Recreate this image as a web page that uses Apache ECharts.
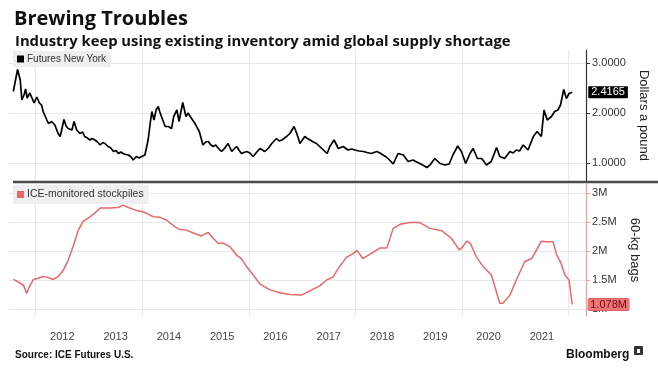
<!DOCTYPE html>
<html><head><meta charset="utf-8">
<script src="https://cdn.jsdelivr.net/npm/echarts@6/dist/echarts.min.js"></script>
<style>html,body{margin:0;padding:0;background:#fff}#c{width:658px;height:368px}</style>
</head><body><div id="c"></div>
<script>
// ---- data ----
const yearLabels = ['2012','2013','2014','2015','2016','2017','2018','2019','2020','2021'];
const priceT = [2011.58,2011.66,2011.71,2011.74,2011.78,2011.81,2011.84,2011.89,2011.93,2011.97,2012.02,2012.07,2012.11,2012.14,2012.21,2012.24,2012.30,2012.36,2012.42,2012.46,2012.53,2012.57,2012.61,2012.68,2012.72,2012.77,2012.83,2012.88,2012.92,2012.97,2013.02,2013.06,2013.11,2013.16,2013.21,2013.26,2013.30,2013.36,2013.41,2013.46,2013.51,2013.55,2013.60,2013.64,2013.69,2013.74,2013.79,2013.83,2013.89,2013.94,2013.99,2014.05,2014.11,2014.15,2014.18,2014.22,2014.26,2014.30,2014.33,2014.36,2014.43,2014.49,2014.55,2014.59,2014.65,2014.69,2014.76,2014.82,2014.86,2014.90,2014.99,2015.07,2015.14,2015.19,2015.24,2015.28,2015.33,2015.38,2015.43,2015.49,2015.55,2015.61,2015.68,2015.73,2015.77,2015.82,2015.86,2015.96,2016.02,2016.08,2016.15,2016.21,2016.30,2016.37,2016.43,2016.52,2016.57,2016.62,2016.71,2016.77,2016.85,2016.90,2016.96,2017.05,2017.10,2017.15,2017.21,2017.27,2017.37,2017.47,2017.52,2017.60,2017.68,2017.77,2017.86,2017.93,2017.99,2018.07,2018.15,2018.22,2018.30,2018.40,2018.46,2018.52,2018.58,2018.64,2018.71,2018.80,2018.90,2018.99,2019.08,2019.15,2019.21,2019.28,2019.34,2019.40,2019.49,2019.59,2019.68,2019.76,2019.83,2019.92,2019.99,2020.07,2020.15,2020.21,2020.29,2020.37,2020.46,2020.55,2020.65,2020.71,2020.80,2020.90,2020.96,2021.02,2021.08,2021.15,2021.24,2021.34,2021.41,2021.49,2021.54,2021.60,2021.68,2021.74,2021.80,2021.85,2021.91,2021.96,2022.01,2022.07];
const priceV = [2.43,2.87,2.66,2.26,2.36,2.48,2.30,2.40,2.30,2.20,2.32,2.20,2.16,2.03,1.86,1.79,1.83,1.76,1.59,1.53,1.87,1.74,1.69,1.66,1.83,1.66,1.59,1.62,1.53,1.50,1.46,1.49,1.46,1.42,1.36,1.41,1.39,1.33,1.30,1.23,1.25,1.19,1.22,1.19,1.17,1.16,1.12,1.06,1.13,1.10,1.13,1.16,1.46,1.80,2.03,1.86,2.06,2.13,2.02,1.93,1.73,1.73,1.69,1.93,2.06,1.83,2.21,1.93,2.00,1.93,1.79,1.63,1.36,1.42,1.43,1.37,1.33,1.36,1.29,1.23,1.30,1.39,1.23,1.29,1.33,1.25,1.19,1.23,1.20,1.13,1.22,1.29,1.23,1.30,1.39,1.49,1.44,1.46,1.53,1.59,1.73,1.59,1.39,1.53,1.49,1.46,1.42,1.39,1.29,1.19,1.33,1.46,1.29,1.33,1.26,1.28,1.26,1.24,1.23,1.21,1.19,1.23,1.20,1.16,1.12,1.06,0.98,1.19,1.16,1.03,1.06,1.02,0.99,0.95,0.91,0.96,1.09,0.99,0.96,0.98,1.16,1.34,1.23,0.99,1.19,1.29,1.09,1.09,0.96,1.03,1.31,1.13,1.09,1.23,1.20,1.26,1.24,1.36,1.26,1.53,1.63,1.53,2.06,1.86,1.93,2.03,2.06,2.16,2.47,2.29,2.39,2.4165];
const stockT = [2011.58,2011.67,2011.77,2011.83,2011.88,2011.96,2012.05,2012.13,2012.21,2012.33,2012.42,2012.52,2012.61,2012.71,2012.80,2012.89,2013.02,2013.14,2013.21,2013.39,2013.55,2013.64,2013.74,2013.89,2013.99,2014.08,2014.21,2014.33,2014.46,2014.61,2014.71,2014.83,2014.96,2015.11,2015.24,2015.33,2015.43,2015.51,2015.65,2015.77,2015.86,2015.96,2016.08,2016.21,2016.40,2016.58,2016.77,2016.99,2017.18,2017.33,2017.46,2017.58,2017.68,2017.83,2017.95,2018.03,2018.14,2018.30,2018.46,2018.59,2018.71,2018.84,2019.02,2019.21,2019.40,2019.62,2019.80,2019.95,2020.01,2020.09,2020.16,2020.27,2020.40,2020.55,2020.62,2020.71,2020.77,2020.90,2021.02,2021.18,2021.31,2021.40,2021.49,2021.59,2021.71,2021.78,2021.86,2021.93,2022.01,2022.07];
const stockV = [1.51,1.47,1.41,1.27,1.38,1.51,1.53,1.56,1.55,1.51,1.56,1.67,1.84,2.10,2.36,2.51,2.59,2.68,2.74,2.74,2.75,2.79,2.75,2.70,2.68,2.65,2.59,2.58,2.53,2.42,2.37,2.36,2.31,2.26,2.32,2.22,2.13,2.14,2.07,1.93,1.87,1.73,1.59,1.43,1.33,1.28,1.25,1.24,1.33,1.40,1.50,1.55,1.70,1.89,1.95,2.01,1.87,1.96,2.05,2.05,2.39,2.46,2.49,2.49,2.39,2.35,2.22,2.02,2.07,2.17,2.13,1.90,1.73,1.59,1.38,1.10,1.10,1.24,1.50,1.82,1.87,2.02,2.17,2.16,2.16,1.93,1.79,1.59,1.50,1.078];
const gridYears = [2012,2014,2016,2018,2020,2022];

const priceData = priceT.map((t,i)=>[t,priceV[i]]);
const stockData = stockT.map((t,i)=>[t,stockV[i]]);
const RED = '#e8676a';
const FONT = 'Liberation Sans, Arial, sans-serif';
const TFONT = 'Open Sans, Liberation Sans, sans-serif';
const vlines = {silent:true, z:0, symbol:['none','none'], label:{show:false},
  lineStyle:{color:'#e8e8e8', width:1, type:'solid'},
  data: gridYears.map(y=>({xAxis:y}))};

const chart = echarts.init(document.getElementById('c'), null, {renderer:'canvas'});
const xBase = {type:'value', min:2011.5, max:2022.33, splitLine:{show:false}};
chart.setOption({
  animation:false,
  textStyle:{fontFamily:FONT},
  title:[
    {text:'Brewing Troubles', left:9, top:4, textStyle:{fontSize:20, fontWeight:'bold', color:'#111', fontFamily:TFONT}},
    {text:'Industry keep using existing inventory amid global supply shortage', left:10, top:29, textStyle:{fontSize:14.8, fontWeight:'bold', color:'#111', fontFamily:TFONT}},
    {text:'Source: ICE Futures U.S.', left:10, top:345, textStyle:{fontSize:10, fontWeight:'bold', color:'#111', fontFamily:FONT}},
    {text:'Bloomberg', left:561, top:344, textStyle:{fontSize:12, fontWeight:'bold', color:'#111', fontFamily:FONT}}
  ],
  legend:[
    {data:['Futures New York'], left:13, top:51, icon:'rect', itemWidth:7, itemHeight:7, itemGap:4, z:6,
     padding:[3,5,3,4], backgroundColor:'#efefef', selectedMode:false,
     textStyle:{fontSize:10, color:'#333', padding:[0,0,0,-2]}},
    {data:['ICE-monitored stockpiles'], left:13, top:185, icon:'rect', itemWidth:7, itemHeight:7, itemGap:4, z:6,
     padding:[4,5,4,4], backgroundColor:'#efefef', selectedMode:false,
     textStyle:{fontSize:10.5, color:'#333', padding:[0,0,0,-2]}}
  ],
  grid:[
    {left:9.05, right:71.9, top:50, height:131},
    {left:9.05, right:71.9, top:184, height:132}
  ],
  xAxis:[
    Object.assign({gridIndex:0, show:false}, xBase),
    Object.assign({gridIndex:1, interval:1, axisLine:{show:false}, axisTick:{show:false},
      axisLabel:{show:true, margin:15, fontSize:11, color:'#444', showMinLabel:true, showMaxLabel:false,
        formatter:v=>{const f=Math.floor(v); return (Math.abs(v-f-0.5)<0.01 && yearLabels.indexOf(String(f))>=0)?String(f):'';}}}, xBase)
  ],
  yAxis:[
    {gridIndex:0, type:'value', position:'right', min:0.64, max:3.26, splitNumber:3,
     axisLine:{show:true, lineStyle:{color:'#333', width:1.2}},
     axisTick:{show:true, length:4, lineStyle:{color:'#333'}},
     axisLabel:{margin:6, fontSize:11, color:'#333', showMinLabel:false, showMaxLabel:false, formatter:v=>v.toFixed(4)},
     splitLine:{show:true, showMinLine:false, showMaxLine:false, lineStyle:{color:'#e8e8e8'}},
     name:'Dollars a pound', nameLocation:'middle', nameRotate:-90, nameGap:42,
     nameTextStyle:{fontSize:13, color:'#222'}},
    {gridIndex:1, type:'value', position:'right', min:0.88, max:3.155, splitNumber:5,
     axisLine:{show:true, lineStyle:{color:'#eda0a0', width:1.2}},
     axisTick:{show:true, length:4, lineStyle:{color:'#eda0a0'}},
     axisLabel:{margin:6, fontSize:11, color:'#333', showMinLabel:false, showMaxLabel:false, formatter:v=>(+v.toFixed(2))+'M'},
     splitLine:{show:true, showMinLine:false, showMaxLine:false, lineStyle:{color:'#e8e8e8'}},
     name:'60-kg bags', nameLocation:'middle', nameRotate:-90, nameGap:42,
     nameTextStyle:{fontSize:13, color:'#222'}}
  ],
  series:[
    {type:'line', xAxisIndex:0, yAxisIndex:0, data:[], markLine:vlines, silent:true, z:0},
    {type:'line', xAxisIndex:1, yAxisIndex:1, data:[], markLine:vlines, silent:true, z:0},
    {name:'Futures New York', type:'line', xAxisIndex:0, yAxisIndex:0, data:priceData, showSymbol:false,
     color:'#000', lineStyle:{color:'#000', width:1.7}, z:3,
     endLabel:{show:true, distance:16, formatter:p=>p.value[1].toFixed(4), backgroundColor:'#000', color:'#fff',
       fontSize:11, padding:[1,3,0,3], borderRadius:1}},
    {name:'ICE-monitored stockpiles', type:'line', xAxisIndex:1, yAxisIndex:1, data:stockData, showSymbol:false,
     color:RED, lineStyle:{color:RED, width:1.5}, z:3,
     endLabel:{show:true, distance:16, formatter:p=>p.value[1].toFixed(3)+'M', backgroundColor:'#f07476', color:'#6b0f10',
       borderColor:'#c94a4c', borderWidth:0.5, fontSize:11, padding:[1,2,0,2], borderRadius:1}}
  ],
  graphic:[
    {type:'line', shape:{x1:13, y1:182, x2:658, y2:182}, style:{stroke:'#4a4a4a', lineWidth:2.5}, z:10},
    {type:'rect', shape:{x:634, y:346, width:9, height:9, r:1}, style:{fill:'#333'}},
    {type:'rect', shape:{x:637, y:349, width:3, height:4}, style:{fill:'#fff'}}
  ]
});
</script></body></html>
